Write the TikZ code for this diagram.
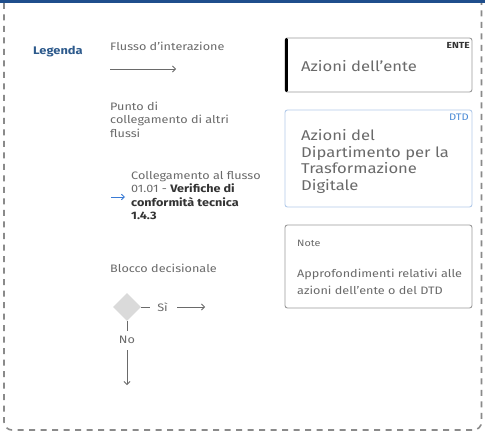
\documentclass[tikz,border=0pt]{standalone}
\usepackage{fontspec}
\setmainfont[FakeStretch=1.17]{Fira Sans}
\usetikzlibrary{shapes.geometric,arrows.meta}
\definecolor{txt}{HTML}{6A6A6A}
\definecolor{dark}{HTML}{333333}
\definecolor{legblue}{HTML}{2D5A8C}
\definecolor{topblue}{HTML}{1F4E8C}
\definecolor{frame}{HTML}{8A8A8A}
\definecolor{boxgray}{HTML}{9A9A9A}
\definecolor{dtdborder}{HTML}{B3CBEA}
\definecolor{dtdlabel}{HTML}{4A8AD6}
\definecolor{linkblue}{HTML}{3A7BD5}
\definecolor{diafill}{HTML}{DADADA}
\tikzset{
  x=1pt,y=-1pt,
  small/.style={font=\fontsize{10.8}{13.5}\selectfont, text=txt, inner sep=0pt, align=left},
  big/.style={font=\fontsize{14.2}{16.5}\selectfont, text=txt, inner sep=0pt, align=left},
  flow/.style={draw=txt, line width=0.8pt, -{Straight Barb[length=3pt,width=6pt]}},
  legbox/.style={draw=boxgray, line width=0.9pt, rounded corners=2.5pt},
  plain/.style={draw=txt, line width=0.8pt},
}
\begin{document}
\begin{tikzpicture}
\useasboundingbox (0,0) rectangle (485,433);
\fill[white] (0,0) rectangle (485,433);
% frame
\draw[frame, line width=1.6pt, dash pattern=on 6pt off 5.5pt, rounded corners=8pt]
  (4,3) -- (4,430) -- (481.5,430) -- (481.5,3);
\draw[topblue, line width=3pt] (0,1.5) -- (485,1.5);
% legend title
\node[anchor=west, font=\fontsize{11}{12}\selectfont\bfseries, text=legblue, inner sep=0pt] (leg) at (33,52) {Legenda};
% flusso
\node[small, anchor=west] (flt) at (110,46) {Flusso d'interazione};
\coordinate (fa) at (110,69);
\coordinate (fb) at (176,69);
\draw[flow] (fa) -- (fb);
% punto di collegamento
\node[small, anchor=north west] (pc) at (110,101.5) {Punto di\\collegamento di altri\\flussi};
\node[small, anchor=north west] (coll) at (131,171)
  {Collegamento al flusso\\01.01 - {\color{dark}\bfseries Verifiche di}\\{\color{dark}\bfseries conformità tecnica}\\{\color{dark}\bfseries 1.4.3}};
\coordinate (la) at (111,197);
\coordinate (lb) at (125,197);
\draw[linkblue, line width=0.9pt, -{Straight Barb[length=3pt,width=5.5pt]}] (la) -- (lb);
% blocco decisionale
\node[small, anchor=west] (bd) at (110,268) {Blocco decisionale};
\node[diamond, fill=diafill, minimum width=28pt, minimum height=28pt, inner sep=0pt] (dia) at (127,307) {};
\node[small, anchor=center] (si) at (162.5,307) {Sì};
\node[small, anchor=center] (no) at (127,340) {No};
\coordinate (sa) at (177,307);
\coordinate (sb) at (205,307);
\coordinate (na) at (127,350);
\coordinate (nb) at (127,385);
\draw[plain] (dia.east) -- ++(9,0);
\draw[flow] (sa) -- (sb);
\draw[plain] (dia.south) -- ++(0,10);
\draw[flow] (na) -- (nb);
% ENTE box
\draw[legbox] (285,38) rectangle (472,92);
\draw[black, line width=3.2pt, line cap=round] (286.5,39.5) -- (286.5,90.5);
\node[anchor=north east, font=\fontsize{8.8}{10}\selectfont\bfseries, text=dark, inner sep=0pt] (entel) at (470,42) {ENTE};
\node[big, anchor=west] (entet) at (301,66) {Azioni dell'ente};
% DTD box
\draw[draw=dtdborder, line width=0.9pt, rounded corners=2.5pt] (285,110) rectangle (472,207);
\node[anchor=north east, font=\fontsize{9.5}{10}\selectfont, text=dtdlabel, inner sep=0pt] (dtdl) at (469,114) {DTD};
\node[big, anchor=north west] (dtdt) at (301,129.5) {Azioni del\\Dipartimento per la\\Trasformazione\\Digitale};
% Note box
\draw[legbox] (285,225) rectangle (472,308);
\node[anchor=west, font=\fontsize{9.2}{11}\selectfont, text=txt, inner sep=0pt] (notel) at (297,243) {Note};
\node[font=\fontsize{10.8}{17}\selectfont, text=txt, inner sep=0pt, align=left, anchor=north west] (notet) at (297,268.5) {Approfondimenti relativi alle\\azioni dell'ente o del DTD};
\end{tikzpicture}
\end{document}
